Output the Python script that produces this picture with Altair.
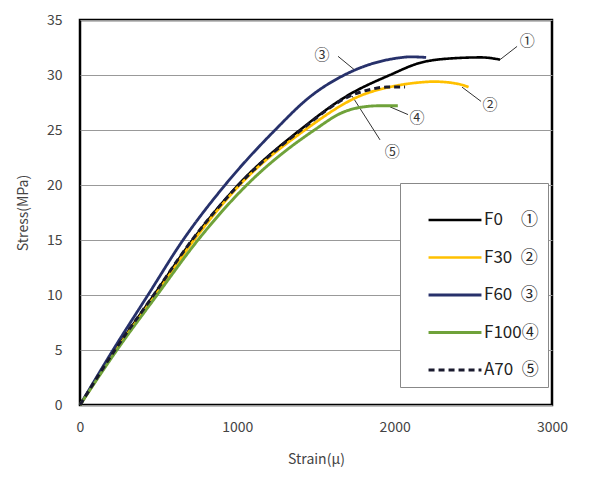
import altair as alt
import pandas as pd

series_names = ["F0", "F30", "F60", "F100", "A70"]
series_colors = ["#000000", "#FFC000", "#27316B", "#6FA23A", "#1A1A2E"]
series_dash = [[1, 0], [1, 0], [1, 0], [1, 0], [6, 4]]
series_width = [2.6, 3.0, 1.8, 1.6, 1.8]

f0_x = [0, 225, 470, 715, 1005, 1398, 1697, 1970, 2160, 2350, 2550, 2670]
f0_y = [0, 5, 10, 15, 20, 25, 28.1, 30.0, 31.1, 31.5, 31.6, 31.4]
f30_x = [0, 230, 480, 725, 1015, 1430, 1780, 2000, 2142, 2250, 2400, 2470]
f30_y = [0, 5, 10, 15, 20, 25, 28.1, 29.0, 29.3, 29.4, 29.2, 28.9]
f60_x = [0, 210, 432, 655, 922, 1240, 1460, 1680, 1850, 2000, 2100, 2200]
f60_y = [0, 5, 10, 15, 20, 25, 28.0, 30.0, 31.0, 31.5, 31.65, 31.6]
f100_x = [0, 235, 490, 750, 1060, 1490, 1670, 1800, 1900, 2020]
f100_y = [0, 5, 10, 15, 20, 25, 26.6, 27.1, 27.2, 27.2]
a70_x = [0, 222, 468, 712, 1008, 1405, 1717, 1850, 1950, 2066]
a70_y = [0, 5, 10, 15, 20, 25, 28.1, 28.7, 28.9, 28.9]

ann_labels = ["①", "②", "③", "④", "⑤"]
ann_x = [2842, 2606, 1538, 2142, 1984]
ann_y = [33.1, 27.3, 31.8, 26.1, 23.0]
lead_x1 = [2670, 2428, 1640, 1971, 1729]
lead_y1 = [31.4, 28.9, 31.7, 27.1, 28.1]
lead_x2 = [2778, 2549, 1742, 2085, 1907]
lead_y2 = [32.6, 27.6, 30.5, 26.4, 24.1]

rows = []
for name, xs, ys in zip(series_names,
                        [f0_x, f30_x, f60_x, f100_x, a70_x],
                        [f0_y, f30_y, f60_y, f100_y, a70_y]):
    for i, (a, b) in enumerate(zip(xs, ys)):
        rows.append({"series": name, "strain": a, "stress": b, "order": i})
df = pd.DataFrame(rows)

ann_df = pd.DataFrame({"label": ann_labels, "x": ann_x, "y": ann_y})
lead_df = pd.DataFrame({"x": lead_x1, "y": lead_y1, "x2": lead_x2, "y2": lead_y2})

FONT = "Noto Sans CJK KR"

label_expr = ("datum.label == 'F0' ? 'F0\u2003\u200a①' : datum.label == 'F30' ? 'F30\u2002②' : "
              "datum.label == 'F60' ? 'F60\u2002③' : datum.label == 'F100' ? 'F100④' : 'A70\u2002⑤'")

legend = alt.Legend(
    title=None, orient="none", legendX=320, legendY=163,
    symbolType="stroke", symbolSize=2800, symbolStrokeWidth=2.5,
    symbolOffset=18,
    labelFont=FONT, labelFontSize=17, labelColor="#222222",
    labelExpr=label_expr, rowPadding=1.5, padding=9,
    strokeColor="#888888", fillColor="white", labelOffset=1,
)

x_scale = alt.Scale(domain=[0, 3000], nice=False)
y_scale = alt.Scale(domain=[0, 35], nice=False)

lines = alt.Chart(df).mark_line(interpolate="monotone").encode(
    x=alt.X("strain:Q", scale=x_scale,
            axis=alt.Axis(values=[0, 1000, 2000, 3000], grid=False, title="Strain(μ)",
                          format="d",
                          labelFont=FONT, labelFontSize=14, labelColor="#444444",
                          titleFont=FONT, titleFontSize=14, titleFontWeight="normal",
                          titleColor="#444444", labelPadding=15, titlePadding=18,
                          tickSize=0, domain=False, labelFlush=False)),
    y=alt.Y("stress:Q", scale=y_scale,
            axis=alt.Axis(values=[0, 5, 10, 15, 20, 25, 30, 35], grid=True, title="Stress(MPa)",
                          labelFont=FONT, labelFontSize=14, labelColor="#444444",
                          titleFont=FONT, titleFontSize=14, titleFontWeight="normal",
                          titleColor="#444444", labelPadding=18, titlePadding=16,
                          tickSize=0, domain=False, gridColor="#999999", gridWidth=1)),
    color=alt.Color("series:N", scale=alt.Scale(domain=series_names, range=series_colors),
                    legend=legend),
    strokeDash=alt.StrokeDash("series:N", scale=alt.Scale(domain=series_names, range=series_dash),
                              legend=legend),
    strokeWidth=alt.StrokeWidth("series:N", scale=alt.Scale(domain=series_names, range=series_width),
                                legend=legend),
    order="order:Q",
)

leaders = alt.Chart(lead_df).mark_rule(color="#333333", strokeWidth=1).encode(
    x="x:Q", y="y:Q", x2="x2:Q", y2="y2:Q")

labels = alt.Chart(ann_df).mark_text(font=FONT, fontSize=15, color="#333333").encode(
    x="x:Q", y="y:Q", text="label:N")

chart = alt.layer(leaders, lines, labels).properties(
    width=472, height=385,
    background="white",
    autosize=alt.AutoSizeParams(type="none"),
    padding={"left": 72, "top": 12, "right": 32, "bottom": 62},
).configure_view(stroke="black", strokeWidth=2.5)

chart.save("out.html", embed_options={"renderer": "svg", "actions": False})
